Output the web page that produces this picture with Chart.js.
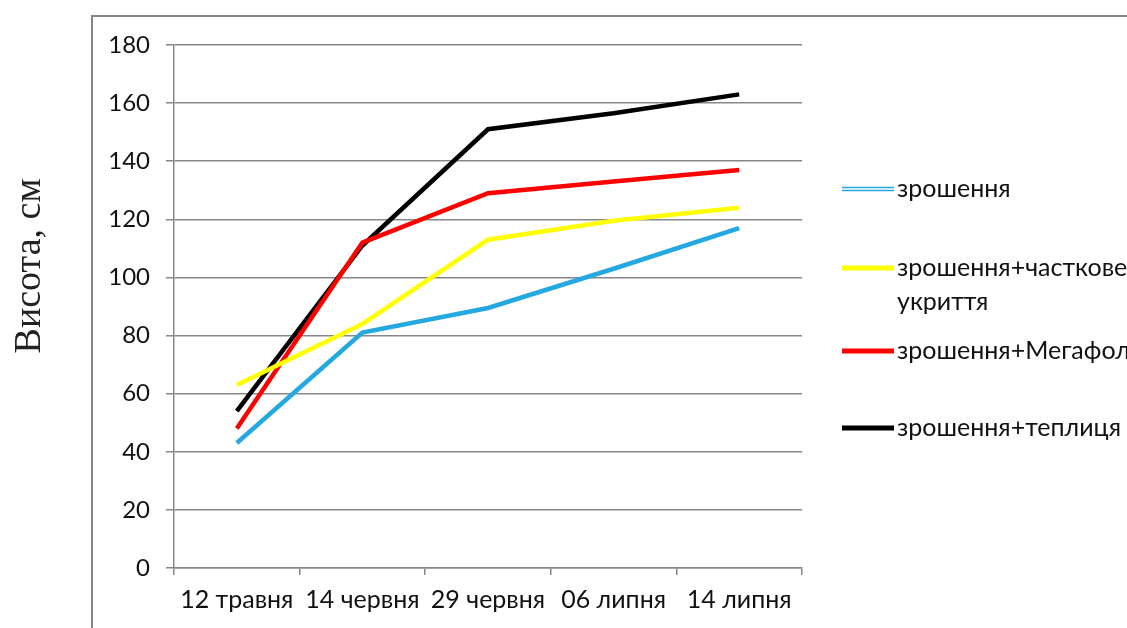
<!DOCTYPE html>
<html lang="uk">
<head>
<meta charset="UTF-8">
<title>Висота рослин</title>
<script src="https://cdn.jsdelivr.net/npm/chart.js"></script>
<style>
    html, body { margin: 0; padding: 0; background: #fff; }
    #wrap { position: relative; width: 1127px; height: 628px; overflow: hidden; }
    #frame { position: absolute; left: 91px; top: 15px; right: -5px; bottom: -5px;
             border-left: 2px solid #858585; border-top: 2px solid #858585; }
    #chart { position: absolute; left: 0; top: 0; }
</style>
</head>
<body>
<div id="wrap">
    <div id="frame"></div>
    <canvas id="chart" width="1127" height="628"></canvas>
</div>
<script>
// Дати вимірювань
const dates = ['12 травня', '14 червня', '29 червня', '06 липня', '14 липня'];

// Висота, см
const zroshennya = [43, 81, 89.5, 103, 117];
const chastkoveUkryttya = [63, 84, 113, 119.5, 124];
const megafol = [48, 112, 129, 133, 137];
const teplytsya = [54, 111, 151, 156.5, 163];

const yTicks = [0, 20, 40, 60, 80, 100, 120, 140, 160, 180];

const seriesNames = ['зрошення', 'зрошення+часткове укриття', 'зрошення+Мегафол', 'зрошення+теплиця'];
const legendLines = [['зрошення'], ['зрошення+часткове', 'укриття'], ['зрошення+Мегафол'], ['зрошення+теплиця']];
const seriesColors = ['#23a8e0', '#ffff00', '#ff0000', '#000000'];

const gridColor = '#878787';

// легенда праворуч + підпис осі Y
const sidePlugin = {
    id: 'side',
    afterDraw(chart) {
        const ctx = chart.ctx;
        ctx.save();
        ctx.font = '25px Lato';
        ctx.textBaseline = 'middle';
        ctx.fillStyle = '#111';
        const rows = [189, 268, 351, 428];
        chart.data.datasets.forEach((ds, i) => {
            const y = rows[i];
            ctx.strokeStyle = ds.borderColor;
            if (i === 0) {
                ctx.lineWidth = 1.5;
                ctx.beginPath();
                ctx.moveTo(842, y - 1.6); ctx.lineTo(894, y - 1.6);
                ctx.moveTo(842, y + 1.6); ctx.lineTo(894, y + 1.6);
                ctx.stroke();
            } else {
                ctx.lineWidth = 5;
                ctx.beginPath();
                ctx.moveTo(842, y); ctx.lineTo(894, y);
                ctx.stroke();
            }
            legendLines[i].forEach((t, k) => ctx.fillText(t, 897, y + k * 34));
        });

        ctx.translate(30, 266);
        ctx.rotate(-Math.PI / 2);
        ctx.font = '38px "Liberation Serif"';
        ctx.textAlign = 'center';
        ctx.fillStyle = '#222';
        ctx.fillText('Висота, см', 0, 0);
        ctx.restore();
    }
};

const datasets = [zroshennya, chastkoveUkryttya, megafol, teplytsya].map((vals, i) => ({
    label: seriesNames[i],
    data: vals,
    borderColor: seriesColors[i],
    backgroundColor: seriesColors[i],
    borderWidth: 4.5,
    pointRadius: 0,
    tension: 0,
    fill: false
}));

new Chart(document.getElementById('chart'), {
    type: 'line',
    data: { labels: dates, datasets: datasets },
    options: {
        responsive: false,
        animation: false,
        devicePixelRatio: 1,
        layout: { padding: { left: 0, right: 325, top: 45, bottom: 0 } },
        plugins: {
            legend: { display: false },
            tooltip: { enabled: false },
            title: { display: false }
        },
        scales: {
            x: {
                offset: true,
                afterFit(scale) { scale.height = 60; },
                grid: { offset: true, drawOnChartArea: false, drawTicks: true, tickLength: 7, color: gridColor, lineWidth: 1.5 },
                border: { color: gridColor, width: 1.5 },
                ticks: { font: { family: 'Lato', size: 25 }, color: '#111', padding: 10, maxRotation: 0, autoSkip: false }
            },
            y: {
                min: 0,
                max: 180,
                afterFit(scale) { scale.width = 174; },
                afterBuildTicks(scale) { scale.ticks = yTicks.map(v => ({ value: v })); },
                grid: { color: gridColor, lineWidth: 1.5, tickLength: 8 },
                border: { color: gridColor, width: 1.5 },
                ticks: { font: { family: 'Lato', size: 24 }, color: '#111', padding: 16 }
            }
        }
    },
    plugins: [sidePlugin]
});
</script>
</body>
</html>
